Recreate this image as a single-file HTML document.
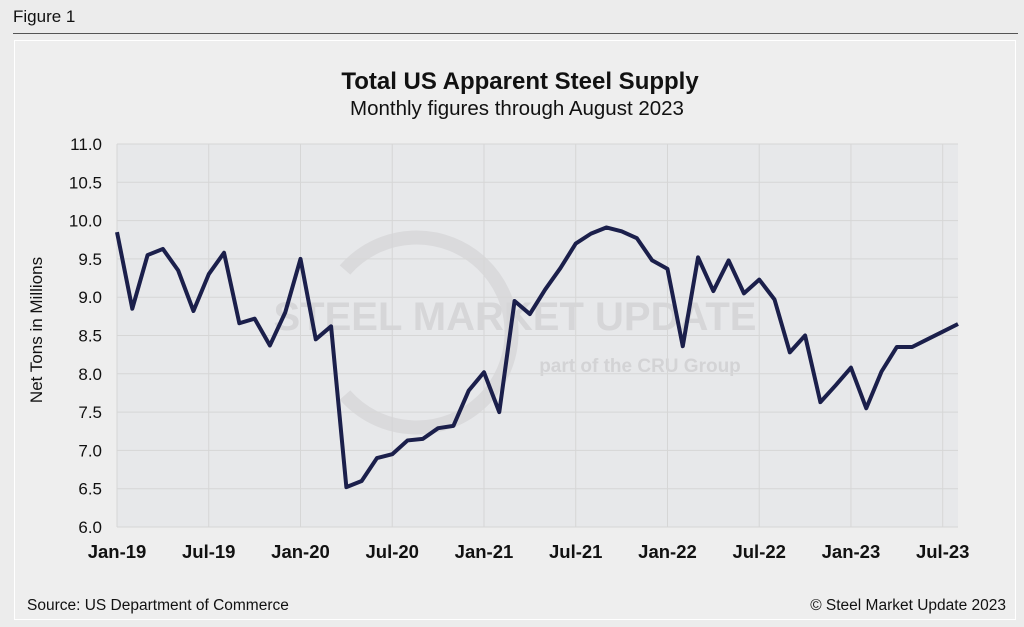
<!DOCTYPE html>
<html><head><meta charset="utf-8"><style>
body{margin:0;width:1024px;height:627px;background:#ececec;font-family:"Liberation Sans",Arial,sans-serif;overflow:hidden;position:relative}
.t{position:absolute;white-space:nowrap}
</style></head><body>
<div class="t" style="left:13px;top:7px;font-size:17px;color:#111">Figure 1</div>
<div style="position:absolute;left:13px;top:33px;width:1005px;height:1px;background:#555"></div>
<div style="position:absolute;left:14px;top:40px;width:1002px;height:580px;border:1px solid #fff;background:#eeeeee;box-sizing:border-box"></div>
<svg id="c" width="1024" height="627" style="position:absolute;left:0;top:0" font-family="Liberation Sans, Arial, sans-serif"></svg>
<script>
const months=["Jan-19","Feb-19","Mar-19","Apr-19","May-19","Jun-19","Jul-19","Aug-19","Sep-19","Oct-19","Nov-19","Dec-19","Jan-20","Feb-20","Mar-20","Apr-20","May-20","Jun-20","Jul-20","Aug-20","Sep-20","Oct-20","Nov-20","Dec-20","Jan-21","Feb-21","Mar-21","Apr-21","May-21","Jun-21","Jul-21","Aug-21","Sep-21","Oct-21","Nov-21","Dec-21","Jan-22","Feb-22","Mar-22","Apr-22","May-22","Jun-22","Jul-22","Aug-22","Sep-22","Oct-22","Nov-22","Dec-22","Jan-23","Feb-23","Mar-23","Apr-23","May-23","Jun-23","Jul-23","Aug-23"];
const supply=[9.85,8.85,9.55,9.63,9.35,8.82,9.30,9.58,8.66,8.72,8.37,8.80,9.50,8.45,8.62,6.52,6.60,6.90,6.95,7.13,7.15,7.29,7.32,7.78,8.02,7.50,8.95,8.78,9.10,9.38,9.70,9.83,9.91,9.86,9.77,9.48,9.37,8.36,9.52,9.08,9.48,9.05,9.23,8.97,8.28,8.50,7.63,7.85,8.08,7.55,8.03,8.35,8.35,8.45,8.55,8.65];
const yTicks=[6.0,6.5,7.0,7.5,8.0,8.5,9.0,9.5,10.0,10.5,11.0];
const xTickLabels=["Jan-19","Jul-19","Jan-20","Jul-20","Jan-21","Jul-21","Jan-22","Jul-22","Jan-23","Jul-23"];
const NS="http://www.w3.org/2000/svg",svg=document.getElementById('c');
const L=117,R=958,T=144,B=527,ymin=6,ymax=11;
const xs=i=>L+(R-L)*i/(months.length-1);
const ys=v=>B-(B-T)*(v-ymin)/(ymax-ymin);
function mk(tag,a,txt){const e=document.createElementNS(NS,tag);for(const k in a)e.setAttribute(k,a[k]);if(txt!=null)e.textContent=txt;svg.appendChild(e);return e;}
let e;
e=mk('rect',{x:L,y:T,width:R-L,height:B-T,fill:'#e7e8ea'});


e=mk('path',{d:'M 345 270 A 95 95 0 1 1 345 395',fill:'none',stroke:'#dadadc','stroke-width':14});


e=mk('text',{x:515,y:330,'font-size':40,fill:'#d6d6d8','text-anchor':'middle','font-weight':'bold'},'STEEL MARKET UPDATE');


e=mk('text',{x:640,y:372,'font-size':19,fill:'#d3d3d5','text-anchor':'middle','font-weight':'bold'},'part of the CRU Group');


yTicks.forEach(v=>{
 e=mk('line',{x1:L,x2:R,y1:ys(v),y2:ys(v),stroke:'#d6d6d6','stroke-width':1});
 
 
 e=mk('text',{x:102,y:ys(v)+6,'font-size':17,fill:'#111','text-anchor':'end'},v.toFixed(1));
 
 
});
xTickLabels.forEach(lab=>{
 const i=months.indexOf(lab),x=xs(i);
 e=mk('line',{x1:x,x2:x,y1:T,y2:B,stroke:'#d6d6d6','stroke-width':1});
 
 
 e=mk('text',{x:x,y:558,'font-size':18.5,'font-weight':'bold',fill:'#111','text-anchor':'middle'},lab);
 
 
});
e=mk('polyline',{points:supply.map((v,i)=>xs(i)+','+ys(v)).join(' '),fill:'none',stroke:'#1b1f4b','stroke-width':4,'stroke-linejoin':'round'});


e=mk('text',{x:520,y:89,'font-size':24,'font-weight':'bold',fill:'#111','text-anchor':'middle'},'Total US Apparent Steel Supply');


e=mk('text',{x:517,y:115,'font-size':20.5,fill:'#111','text-anchor':'middle'},'Monthly figures through August 2023');


e=mk('text',{x:42,y:330,'font-size':17,fill:'#111','text-anchor':'middle',transform:'rotate(-90 42 330)'},'Net Tons in Millions');


e=mk('text',{x:27,y:610,'font-size':15.5,fill:'#111'},'Source: US Department of Commerce');


e=mk('text',{x:1006,y:610,'font-size':15.5,fill:'#111','text-anchor':'end'},'© Steel Market Update 2023');


</script>
</body></html>
